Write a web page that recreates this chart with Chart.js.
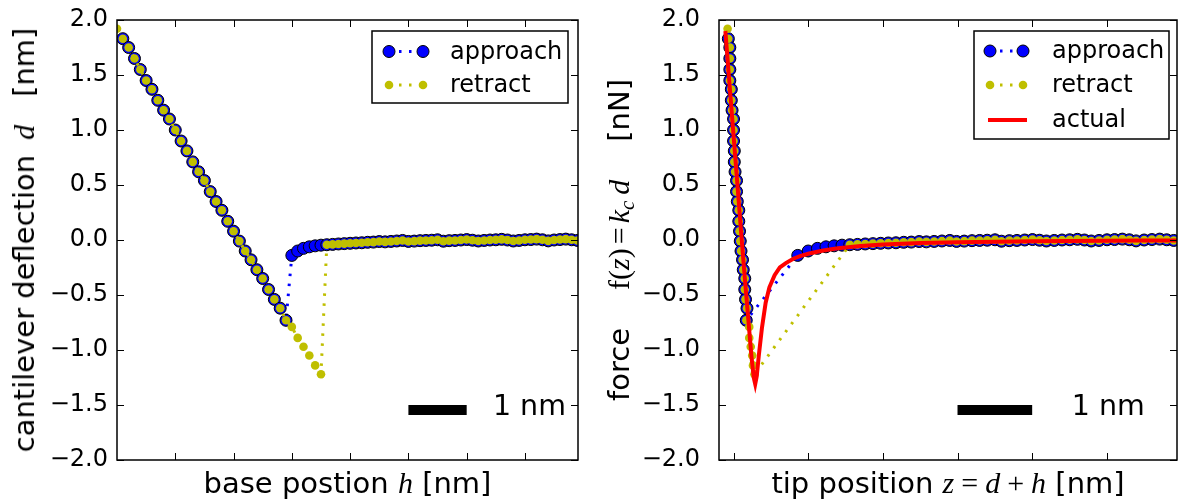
<!DOCTYPE html>
<html>
<head>
<meta charset="utf-8">
<script src="https://cdn.jsdelivr.net/npm/chart.js@4.4.0/dist/chart.umd.min.js"></script>
<style>
  html, body { margin: 0; padding: 0; background: #fff; }
  #wrap { position: relative; width: 1178px; height: 500px; overflow: hidden; font-family: "DejaVu Sans", sans-serif; }
  canvas { position: absolute; top: 0; }
  .lbl { position: absolute; white-space: pre; font-size: 29px; line-height: 29px; color: #000; }
  .m { font-family: "Liberation Serif", serif; font-size: 30px; }
  .m i { font-style: italic; }
  .m sub { font-size: 0.7em; vertical-align: -0.25em; line-height: 0; }
  .op { margin: 0 7px; }
  .xl { top: 468px; transform: translateX(-50%); }
  .yl { top: 240px; transform: translate(-50%, -50%) rotate(-90deg); }
</style>
</head>
<body>
<div id="wrap">
  <canvas id="left" width="590" height="500" style="left:0"></canvas>
  <canvas id="right" width="588" height="500" style="left:590px"></canvas>
  <div class="lbl xl" style="left:347.5px">base postion <span class="m"><i>h</i></span> [nm]</div>
  <div class="lbl xl" style="left:948px">tip position <span class="m"><i>z</i><span class="op">=</span><i>d</i><span class="op">+</span><i>h</i></span> [nm]</div>
  <div class="lbl yl" style="left:23.5px">cantilever deflection<span class="m" style="margin-left:15px"><i>d</i></span><span style="margin-left:28px">[nm]</span></div>
  <div class="lbl yl" style="left:618.5px">force<span class="m" style="margin-left:38px">f(<i>z</i>)<span class="op" style="margin:0 4px">=</span><i>k</i><sub><i>c</i></sub>&thinsp;<i>d</i></span><span style="margin-left:38px">[nN]</span></div>
</div>
<script>
// base position h [nm]
const hPos = [
  0.0, 0.1, 0.2, 0.3, 0.4, 0.5, 0.6, 0.7, 0.8, 0.9,
  1.0, 1.1, 1.2, 1.3, 1.4, 1.5, 1.6, 1.7, 1.8, 1.9,
  2.0, 2.1, 2.2, 2.3, 2.4, 2.5, 2.6, 2.7, 2.8, 2.9,
  3.0, 3.1, 3.2, 3.3, 3.4, 3.5, 3.6, 3.7, 3.8, 3.9,
  4.0, 4.1, 4.2, 4.3, 4.4, 4.5, 4.6, 4.7, 4.8, 4.9,
  5.0, 5.1, 5.2, 5.3, 5.4, 5.5, 5.6, 5.7, 5.8, 5.9,
  6.0, 6.1, 6.2, 6.3, 6.4, 6.5, 6.6, 6.7, 6.8, 6.9,
  7.0, 7.1, 7.2, 7.3, 7.4, 7.5, 7.6, 7.7, 7.8, 7.9
];

// cantilever deflection d [nm]
const approachDefl = [
  null, 1.83, 1.75, 1.65, 1.55, 1.45, 1.37, 1.27, 1.18, 1.10,
  1.00, 0.90, 0.81, 0.71, 0.62, 0.54, 0.44, 0.35, 0.27, 0.17,
  0.08, -0.01, -0.10, -0.18, -0.27, -0.35, -0.45, -0.54, -0.62, -0.73,
  -0.14, -0.10, -0.076, -0.062, -0.053, -0.047, -0.043, -0.040, -0.036, -0.033,
  -0.030, -0.027, -0.025, -0.021, -0.019, -0.014, -0.017, -0.013, -0.009, -0.004,
  -0.013, -0.010, -0.006, -0.004, -0.002, 0.002, -0.011, -0.006, -0.004, 0.000,
  0.004, -0.002, -0.009, -0.004, 0.000, 0.002, 0.006, 0.000, -0.009, -0.004,
  0.002, 0.004, 0.008, 0.002, -0.008, 0.000, 0.004, 0.008, 0.002, -0.004
];

const retractDefl = [
  1.92, 1.83, 1.75, 1.65, 1.55, 1.45, 1.37, 1.27, 1.18, 1.10,
  1.00, 0.90, 0.81, 0.71, 0.62, 0.54, 0.44, 0.35, 0.27, 0.17,
  0.08, -0.01, -0.10, -0.18, -0.27, -0.35, -0.45, -0.54, -0.62, -0.73,
  -0.79, -0.89, -0.97, -1.05, -1.14, -1.22, -0.043, -0.040, -0.036, -0.033,
  -0.030, -0.027, -0.025, -0.021, -0.019, -0.014, -0.017, -0.013, -0.009, -0.004,
  -0.013, -0.010, -0.006, -0.004, -0.002, 0.002, -0.011, -0.006, -0.004, 0.000,
  0.004, -0.002, -0.009, -0.004, 0.000, 0.002, 0.006, 0.000, -0.009, -0.004,
  0.002, 0.004, 0.008, 0.002, -0.008, 0.000, 0.004, 0.008, 0.002, -0.004
];

// actual force curve, tip position z [nm] vs force [nN]
const actualZ = [
  1.89, 1.95, 2.00, 2.05, 2.10, 2.15, 2.20, 2.24, 2.27, 2.29, 2.31,
  2.34, 2.38, 2.43, 2.48, 2.55, 2.62, 2.70, 2.80, 2.90, 3.00, 3.20,
  3.40, 3.70, 4.00, 4.50, 5.00, 5.50, 6.00, 6.50, 7.00, 7.50, 7.94
];
const actualForce = [
  1.90, 1.38, 0.95, 0.52, 0.08, -0.34, -0.74, -1.06, -1.25, -1.31, -1.24,
  -1.04, -0.80, -0.57, -0.43, -0.32, -0.25, -0.21, -0.17, -0.145, -0.125, -0.095,
  -0.075, -0.055, -0.042, -0.028, -0.020, -0.015, -0.011, -0.008, -0.006, -0.005, -0.004
];

const kc = 1.0; // nN/nm

const yTicks = [-2.0, -1.5, -1.0, -0.5, 0.0, 0.5, 1.0, 1.5, 2.0];
const xTicksBase = [1, 2, 3, 4, 5, 6, 7];
const xTicksTip = [2, 3, 4, 5, 6, 7];

// 1 nm scale bar
const barX = [5, 6];
const barY = -1.545;

const BLUE = '#0000ff';
const YEL = '#bfbf00';

function fmtTick(v) {
  return (v < 0 ? '\u2212' : '') + Math.abs(v).toFixed(1);
}

// no extra room for end labels, the chart area is set by layout padding only
function noPad(s) {
  s.paddingTop = 0; s.paddingBottom = 0; s.paddingLeft = 0; s.paddingRight = 0;
}

const decor = {
  id: 'decor',
  afterDraw(chart, args, opts) {
    const ctx = chart.ctx;
    const a = chart.chartArea;
    const xs = chart.scales.x, ys = chart.scales.y;
    ctx.save();

    // inward ticks on all four sides
    ctx.strokeStyle = '#000';
    ctx.lineWidth = 1;
    ctx.beginPath();
    opts.xTicks.forEach((v) => {
      const px = Math.round(xs.getPixelForValue(v)) + 0.5;
      ctx.moveTo(px, a.bottom); ctx.lineTo(px, a.bottom - 7);
      ctx.moveTo(px, a.top); ctx.lineTo(px, a.top + 7);
    });
    yTicks.forEach((v) => {
      const py = Math.round(ys.getPixelForValue(v)) + 0.5;
      ctx.moveTo(a.left, py); ctx.lineTo(a.left + 7, py);
      ctx.moveTo(a.right, py); ctx.lineTo(a.right - 7, py);
    });
    ctx.stroke();

    ctx.lineWidth = 1.5;
    ctx.strokeRect(a.left, a.top, a.right - a.left, a.bottom - a.top);

    // scale bar label
    ctx.fillStyle = '#000';
    ctx.font = '28.5px "DejaVu Sans"';
    ctx.textBaseline = 'alphabetic';
    ctx.textAlign = 'left';
    ctx.fillText('1 nm', xs.getPixelForValue(opts.barText[0]), ys.getPixelForValue(opts.barText[1]));

    // legend
    const lg = opts.legend;
    const b = lg.box;
    ctx.fillStyle = '#fff';
    ctx.fillRect(b[0], b[1], b[2] - b[0], b[3] - b[1]);
    ctx.strokeStyle = '#000';
    ctx.lineWidth = 1.5;
    ctx.strokeRect(b[0], b[1], b[2] - b[0], b[3] - b[1]);
    lg.rows.forEach((r) => {
      const ds = chart.data.datasets[r.ds];
      ctx.save();
      ctx.strokeStyle = ds.borderColor;
      ctx.lineWidth = ds.borderWidth;
      ctx.setLineDash(ds.borderDash || []);
      ctx.beginPath();
      if (ds.pointRadius > 0) {
        ctx.moveTo(lg.marks[0], r.y); ctx.lineTo(lg.marks[1], r.y);
      } else {
        ctx.moveTo(lg.marks[0] - 2, r.y); ctx.lineTo(lg.marks[1] + 4, r.y);
      }
      ctx.stroke();
      ctx.setLineDash([]);
      if (ds.pointRadius > 0) {
        lg.marks.forEach((mx) => {
          ctx.beginPath();
          ctx.arc(mx, r.y, ds.pointRadius, 0, Math.PI * 2);
          ctx.fillStyle = ds.pointBackgroundColor;
          ctx.fill();
          if (ds.pointBorderWidth > 0) {
            ctx.lineWidth = ds.pointBorderWidth;
            ctx.strokeStyle = ds.pointBorderColor;
            ctx.stroke();
          }
        });
      }
      ctx.restore();
      ctx.fillStyle = '#000';
      ctx.font = '24px "DejaVu Sans"';
      ctx.fillText(r.label, lg.textX, r.y + 7);
    });
    ctx.restore();
  }
};

function approachSet(points) {
  return {
    data: points, borderColor: BLUE, borderWidth: 3, borderDash: [2.5, 7.5],
    pointRadius: 6, pointBackgroundColor: BLUE, pointBorderColor: '#000',
    pointBorderWidth: 1, tension: 0, clip: 0
  };
}
function retractSet(points) {
  return {
    data: points, borderColor: YEL, borderWidth: 3, borderDash: [2.5, 7.5],
    pointRadius: 4.3, pointBackgroundColor: YEL, pointBorderColor: YEL,
    pointBorderWidth: 0, tension: 0, clip: 0
  };
}
function barSet() {
  return {
    data: barX.map((x) => ({ x: x, y: barY })), borderColor: '#000',
    borderWidth: 10, pointRadius: 0, borderCapStyle: 'butt', clip: 0
  };
}

function options(xMin, xMax, xTicks, yWidth, tickPad, padRight, decorOpts) {
  return {
    responsive: false,
    animation: false,
    events: [],
    layout: { autoPadding: false, padding: { top: 20, right: padRight, left: 0, bottom: 0 } },
    plugins: { legend: { display: false }, tooltip: { enabled: false }, decor: decorOpts },
    scales: {
      x: {
        type: 'linear', min: xMin, max: xMax,
        grid: { display: false, drawTicks: false }, border: { display: false },
        ticks: { display: false },
        afterBuildTicks: (s) => { s.ticks = xTicks.map((v) => ({ value: v })); },
        afterFit: (s) => { s.height = 40; noPad(s); }
      },
      y: {
        type: 'linear', min: -2, max: 2,
        grid: { display: false, drawTicks: false }, border: { display: false },
        ticks: {
          color: '#000', padding: tickPad,
          font: { family: 'DejaVu Sans', size: 24 },
          callback: (v) => fmtTick(v)
        },
        afterBuildTicks: (s) => { s.ticks = yTicks.map((v) => ({ value: v })); },
        afterFit: (s) => { s.width = yWidth; noPad(s); }
      }
    }
  };
}

const baseApproach = hPos.map((h, i) => ({ x: h, y: approachDefl[i] })).filter((p) => p.y !== null);
const baseRetract = hPos.map((h, i) => ({ x: h, y: retractDefl[i] }));

// tip position z = d + h, force = kc * d
const tipApproach = hPos.map((h, i) => approachDefl[i] === null ? null : ({ x: h + approachDefl[i], y: kc * approachDefl[i] })).filter((p) => p !== null);
const tipRetract = hPos.map((h, i) => ({ x: h + retractDefl[i], y: kc * retractDefl[i] }));
const actualPts = actualZ.map((z, i) => ({ x: z, y: actualForce[i] }));

new Chart(document.getElementById('left'), {
  type: 'line',
  data: { datasets: [retractSet(baseRetract), approachSet(baseApproach), barSet()] },
  options: options(0, 7.91, xTicksBase, 117, 9, 12, {
    xTicks: xTicksBase,
    barText: [6.45, -1.59],
    legend: {
      box: [372, 31, 568, 103], marks: [389, 423], textX: 450,
      rows: [{ ds: 1, y: 51.5, label: 'approach' }, { ds: 0, y: 85, label: 'retract' }]
    }
  }),
  plugins: [decor]
});

new Chart(document.getElementById('right'), {
  type: 'line',
  data: {
    datasets: [
      { data: actualPts, borderColor: '#ff0000', borderWidth: 4, pointRadius: 0, tension: 0, clip: 0 },
      retractSet(tipRetract), approachSet(tipApproach), barSet()
    ]
  },
  options: options(1.805, 7.94, xTicksTip, 129, 19, 1, {
    xTicks: xTicksTip,
    barText: [6.53, -1.59],
    legend: {
      box: [384, 31, 579, 139], marks: [400, 433], textX: 462,
      rows: [
        { ds: 2, y: 51, label: 'approach' },
        { ds: 1, y: 85, label: 'retract' },
        { ds: 0, y: 120, label: 'actual' }
      ]
    }
  }),
  plugins: [decor]
});
</script>
</body>
</html>
